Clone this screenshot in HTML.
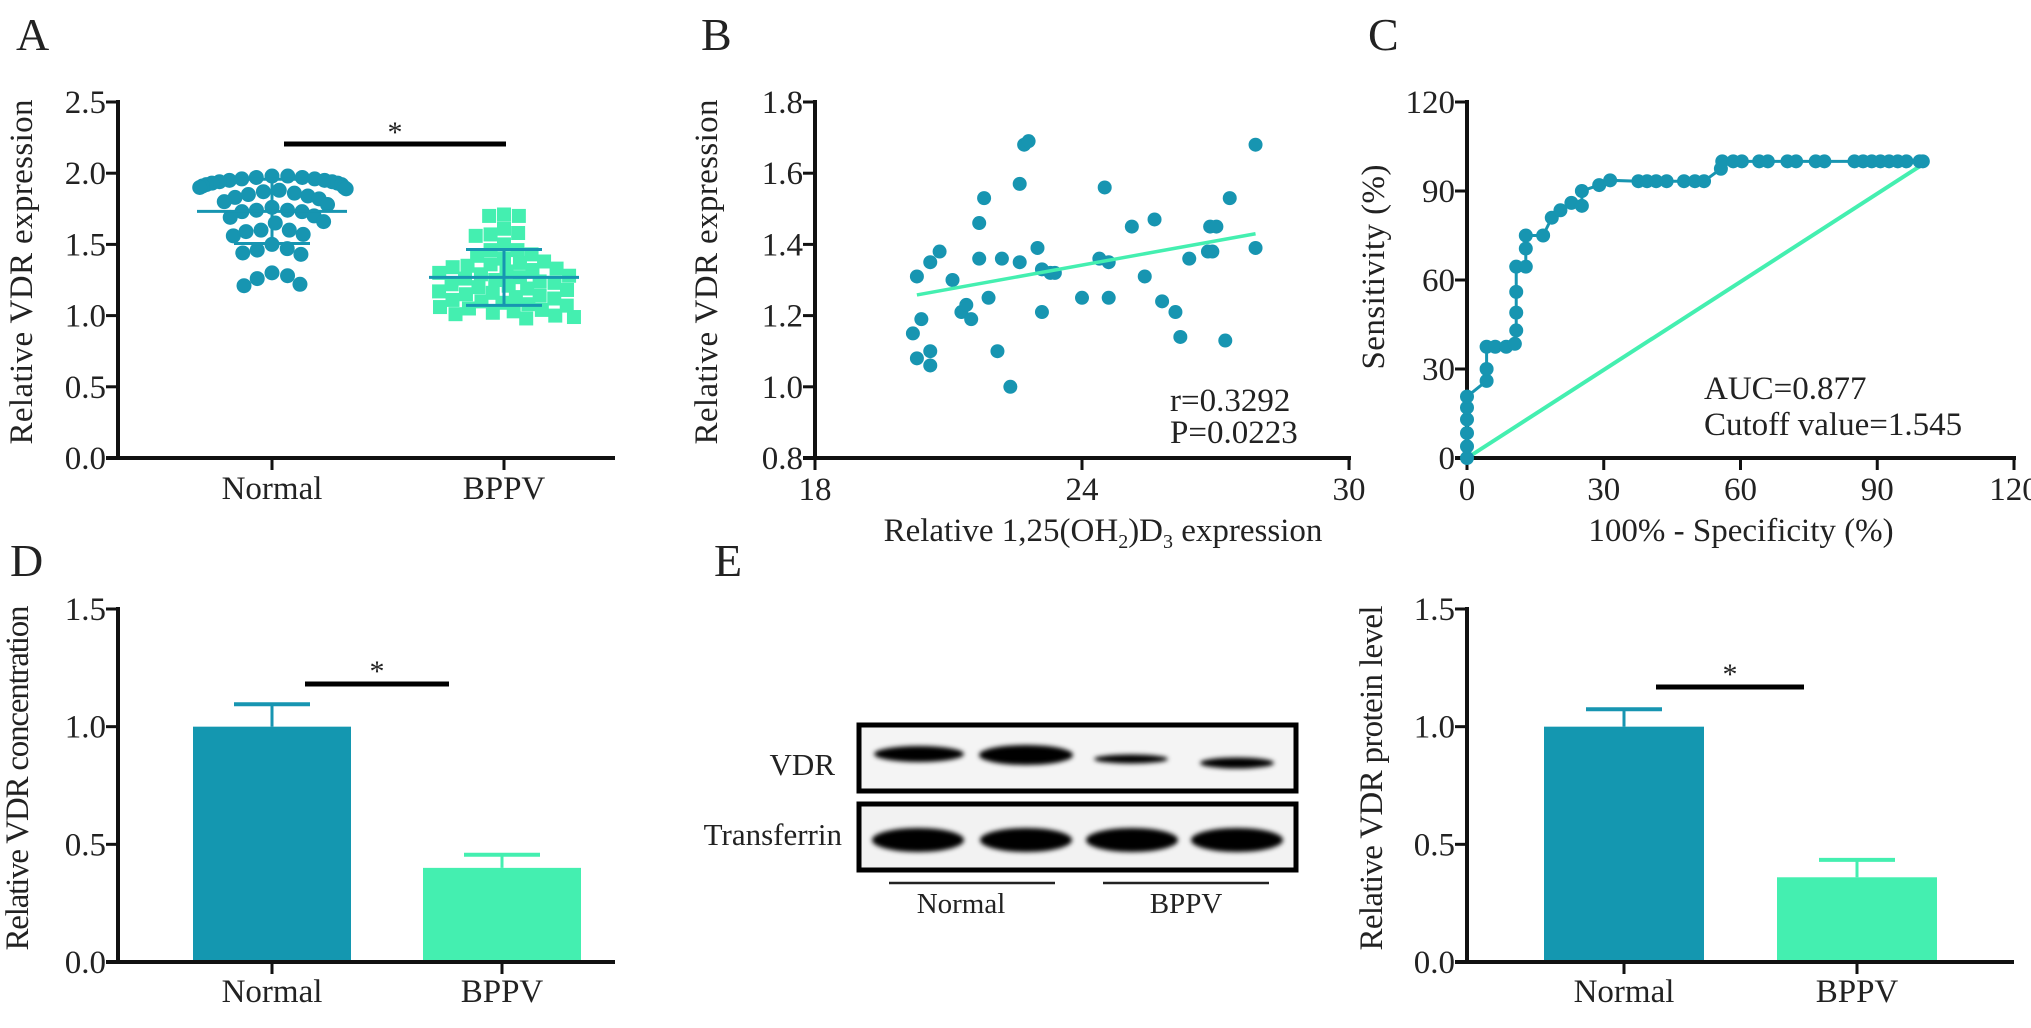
<!DOCTYPE html>
<html><head><meta charset="utf-8"><style>
html,body{margin:0;padding:0;background:#fff;}
svg, svg text{font-family:"Liberation Serif","DejaVu Serif",serif;}
text{fill:#222;}
</style></head><body>
<svg id="fig" width="2031" height="1023" viewBox="0 0 2031 1023" xmlns="http://www.w3.org/2000/svg" font-family="Liberation Serif, DejaVu Serif, serif">
<defs><filter id="blur" x="-20%" y="-100%" width="140%" height="300%"><feGaussianBlur stdDeviation="2.5"/></filter></defs>
<g id="root"></g>
</svg>
<script>
// Panel A data
const normalVals=[1.98,1.98,1.97,1.97,1.96,1.96,1.95,1.95,1.94,1.94,1.93,1.93,1.92,1.92,1.91,1.90,1.90,1.89,1.88,1.87,1.86,1.85,1.84,1.83,1.82,1.80,1.78,1.76,1.74,1.74,1.73,1.73,1.70,1.69,1.66,1.65,1.60,1.60,1.59,1.57,1.56,1.50,1.47,1.46,1.44,1.43,1.30,1.28,1.26,1.22,1.21];
const bppvVals=[1.71,1.70,1.70,1.61,1.58,1.57,1.56,1.50,1.46,1.46,1.43,1.42,1.40,1.38,1.37,1.36,1.35,1.34,1.33,1.32,1.31,1.30,1.29,1.28,1.27,1.26,1.25,1.24,1.23,1.22,1.21,1.20,1.19,1.18,1.17,1.16,1.15,1.14,1.13,1.12,1.11,1.10,1.09,1.08,1.07,1.06,1.05,1.04,1.03,1.02,1.01,1.00,0.99,0.98];
const catLabels=["Normal","BPPV"];
const ticksA=[0,0.5,1.0,1.5,2.0,2.5];
// Panel B data
const scatterX=[20.2,20.29,20.29,20.39,20.59,20.59,20.59,20.8,21.09,21.29,21.4,21.51,21.69,21.69,21.8,21.9,22.1,22.2,22.39,22.6,22.6,22.7,22.8,23.0,23.1,23.1,23.29,23.39,24.0,24.39,24.51,24.6,24.6,25.12,25.41,25.63,25.8,26.1,26.21,26.41,26.83,26.93,26.88,27.02,27.22,27.32,27.9,27.9];
const scatterY=[1.15,1.08,1.31,1.19,1.10,1.06,1.35,1.38,1.30,1.21,1.23,1.19,1.46,1.36,1.53,1.25,1.10,1.36,1.00,1.57,1.35,1.68,1.69,1.39,1.33,1.21,1.32,1.32,1.25,1.36,1.56,1.35,1.25,1.45,1.31,1.47,1.24,1.21,1.14,1.36,1.38,1.38,1.45,1.45,1.13,1.53,1.68,1.39];
const fitX=[20.29,27.9];
const fitY=[1.258,1.43];
const ticksBx=[18,24,30];
const ticksBy=[0.8,1.0,1.2,1.4,1.6,1.8];
// Panel C data
const rocFpr=[0,0,0,0,0,0,4.3,4.3,4.3,6.2,8.6,10.5,10.8,10.8,10.8,10.8,12.9,12.9,12.9,16.7,18.6,20.5,22.9,25.2,25.2,29,31.4,37.6,39.5,41.5,43.8,47.6,50,52,55.7,56,58.4,60.3,64.1,66,70.3,72.2,76.5,78.4,85,86.9,88.8,90.7,92.6,94.5,96.4,99.3,100];
const rocSens=[0,3.9,8.4,13,17,20.7,26,30,37.5,37.5,37.5,38.5,43,49,56,64.5,64.5,70.6,75,75,81,83.5,86,85,90,92,93.6,93.3,93.3,93.3,93.3,93.3,93.3,93.3,97.5,100,100,100,100,100,100,100,100,100,100,100,100,100,100,100,100,100,100];
const ticksC=[0,30,60,90,120];
// Panel D data
const concMeans=[1.0,0.40];
const concErr=[0.095,0.056];
// Panel E data
const protMeans=[1.0,0.36];
const protErr=[0.074,0.074];
const ticksBar=[0,0.5,1.0,1.5];

const NS="http://www.w3.org/2000/svg";
const FONT='Liberation Serif, DejaVu Serif, serif';
const root=document.getElementById('root');
const TEAL="#1795b1", MINT="#44efb0";
function el(tag,attrs,parent){const e=document.createElementNS(NS,tag);for(const k in attrs)e.setAttribute(k,attrs[k]);(parent||root).appendChild(e);return e;}
function txt(s,x,y,size,anchor,parent){const t=el('text',{x:x,y:y,'font-size':size,'text-anchor':anchor||'start','font-family':FONT},parent);t.textContent=s;return t;}
function lin(d0,d1,r0,r1){return v=>r0+(v-d0)/(d1-d0)*(r1-r0);}
function fmt1(v){return v.toFixed(1);}

function axes(g,x0,x1,yTop,yBot,yTicks,yScale,fmt){
  const a=el('line',{x1:x0,y1:yTop-2,x2:x0,y2:yBot+2,stroke:'#111','stroke-width':4},g);
  
  const b=el('line',{x1:x0-12,y1:yBot,x2:x1,y2:yBot,stroke:'#111','stroke-width':4},g);
  
  yTicks.forEach(v=>{const y=yScale(v);
    el('line',{x1:x0-12,y1:y,x2:x0,y2:y,stroke:'#111','stroke-width':3},g);
    const t=txt(fmt(v),x0-12,y+11,33,'end',g);
    });
}
function ytitle(g,s,cx,cy,len,name){const t=el('text',{x:0,y:0,'font-size':33,'font-family':FONT,'text-anchor':'middle',transform:`translate(${cx},${cy}) rotate(-90)`,textLength:len,lengthAdjust:'spacing'},g);t.textContent=s;}
function panelLetter(s,x,y){const t=txt(s,x,y,46,'start');}
function stats(a){const m=a.reduce((s,v)=>s+v,0)/a.length;const sd=Math.sqrt(a.reduce((s,v)=>s+(v-m)*(v-m),0)/(a.length-1));return [m,sd];}
function swarm(vals,d,ys){const s=[...vals].sort((a,b)=>b-a);const placed=[];
  s.forEach(v=>{const y=ys(v);let cands=[0];placed.forEach(p=>{const dy=Math.abs(p.y-y);if(dy<d){const dx=Math.sqrt(d*d-dy*dy);cands.push(p.x+dx,p.x-dx);}});
    cands.sort((a,b)=>Math.abs(a)-Math.abs(b));let best=0;
    for(const c of cands){if(placed.every(p=>(p.x-c)**2+(p.y-y)**2>=d*d-0.01)){best=c;break;}}
    placed.push({x:best,y:y,v:v});});return placed;}

// ---------- Panel A ----------
panelLetter('A',16,50);
(function(){
  const g=el('g',{});
  const ys=lin(0,2.5,458,102);const cx=[272,504];
  axes(g,118,615,102,458,ticksA,ys,fmt1);
  cx.forEach((x,i)=>{el('line',{x1:x,y1:458,x2:x,y2:470,stroke:'#111','stroke-width':3},g);const t=txt(catLabels[i],x,499,33,'middle',g);});
  ytitle(g,'Relative  VDR expression',32,272,345,'y-axis-title');
  swarm(normalVals,16,ys).forEach(p=>{const c=el('circle',{cx:cx[0]+78*Math.tanh(p.x/78),cy:p.y,r:7.5,fill:TEAL},g);});
  swarm(bppvVals,13,ys).forEach(p=>{const r=el('rect',{x:cx[1]+p.x*1.15-7,y:p.y-7,width:14,height:14,fill:MINT},g);});
  [[normalVals,cx[0],TEAL],[bppvVals,cx[1],TEAL]].forEach(([a,x,col])=>{const [m,sd]=stats(a);
    el('line',{x1:x-75,y1:ys(m),x2:x+75,y2:ys(m),stroke:col,'stroke-width':3},g);
    el('line',{x1:x,y1:ys(m+sd),x2:x,y2:ys(m-sd),stroke:col,'stroke-width':3},g);
    [m+sd,m-sd].forEach(v=>el('line',{x1:x-38,y1:ys(v),x2:x+38,y2:ys(v),stroke:col,'stroke-width':3},g));});
  const s=el('line',{x1:284,y1:144,x2:506,y2:144,stroke:'#000','stroke-width':5},g);
  txt('*',395,142,30,'middle',g);
})();

// ---------- Panel B ----------
panelLetter('B',701,50);
(function(){
  const g=el('g',{});
  const xs=lin(18,30,815,1349), ys=lin(0.8,1.8,458,102);
  axes(g,815,1351,102,458,ticksBy,ys,fmt1);
  ticksBx.forEach(v=>{const x=xs(v);el('line',{x1:x,y1:458,x2:x,y2:470,stroke:'#111','stroke-width':3},g);const t=txt(String(v),x,500,33,'middle',g);});
  ytitle(g,'Relative  VDR expression',717,272,345,'y-axis-title');
  scatterX.forEach((xv,i)=>{const c=el('circle',{cx:xs(xv),cy:ys(scatterY[i]),r:7,fill:TEAL},g);});
  const f=el('line',{x1:xs(fitX[0]),y1:ys(fitY[0]),x2:xs(fitX[1]),y2:ys(fitY[1]),stroke:MINT,'stroke-width':3.5},g);
  const t1=txt('r=0.3292',1170,411,33,'start',g);
  const t2=txt('P=0.0223',1170,443,33,'start',g);
  const xt=el('text',{x:1103,y:541,'font-size':33,'text-anchor':'middle','font-family':FONT},g);
  xt.innerHTML='Relative 1,25(OH<tspan font-size="20" dy="7">2</tspan><tspan dy="-7">)D</tspan><tspan font-size="20" dy="7">3</tspan><tspan dy="-7"> expression</tspan>';
})();

// ---------- Panel C ----------
panelLetter('C',1368,50);
(function(){
  const g=el('g',{});
  const xs=lin(0,120,1467,2014), ys=lin(0,120,458,102);
  axes(g,1467,2016,102,458,[0,30,60,90,120],ys,v=>String(v));
  ticksC.forEach(v=>{const x=xs(v);el('line',{x1:x,y1:458,x2:x,y2:470,stroke:'#111','stroke-width':3},g);const t=txt(String(v),x,500,33,'middle',g);});
  ytitle(g,'Sensitivity  (%)',1384,267,205,'y-axis-title');
  const d=el('line',{x1:xs(0),y1:ys(0),x2:xs(100),y2:ys(99)},g);d.setAttribute('stroke',MINT);d.setAttribute('stroke-width',4);
  const pts=rocFpr.map((v,i)=>xs(v)+','+ys(rocSens[i])).join(' ');
  const pl=el('polyline',{points:pts,fill:'none',stroke:TEAL,'stroke-width':3},g);
  rocFpr.forEach((v,i)=>{const c=el('circle',{cx:xs(v),cy:ys(rocSens[i]),r:7,fill:TEAL},g);});
  const a1=txt('AUC=0.877',1704,399,33,'start',g);
  const a2=txt('Cutoff value=1.545',1704,435,33,'start',g);
  const xt=txt('100% - Specificity (%)',1741,541,33,'middle',g);
})();

// ---------- Bar panels ----------
function barPanel(name,x0,x1,cx,bw,means,errs,title,titleX,sig){
  const g=el('g',{});
  const ys=lin(0,1.5,962,609);
  const cols=[TEAL,MINT];
  means.forEach((m,i)=>{const b=el('rect',{x:cx[i]-bw/2,y:ys(m),width:bw,height:ys(0)-ys(m),fill:i?MINT:'#1497b0'},g);
    const e=el('g',{},g);
    el('line',{x1:cx[i],y1:ys(m),x2:cx[i],y2:ys(m+errs[i]),stroke:cols[i],'stroke-width':3},e);
    el('line',{x1:cx[i]-38,y1:ys(m+errs[i]),x2:cx[i]+38,y2:ys(m+errs[i]),stroke:cols[i],'stroke-width':4},e);});
  axes(g,x0,x1,609,962,ticksBar,ys,fmt1);
  cx.forEach((x,i)=>{el('line',{x1:x,y1:962,x2:x,y2:974,stroke:'#111','stroke-width':3},g);const t=txt(catLabels[i],x,1002,33,'middle',g);});
  ytitle(g,title,titleX,778,345,'y-axis-title');
  const s=el('line',{x1:sig[0],y1:sig[2],x2:sig[1],y2:sig[2],stroke:'#000','stroke-width':5},g);
  txt('*',(sig[0]+sig[1])/2,sig[2]-3,30,'middle',g);
}
panelLetter('D',10,576);
barPanel('panel-d-bar-chart',118,615,[272,502],158,concMeans,concErr,'Relative VDR concentration',28,[305,449,684]);
barPanel('panel-e-bar-chart',1467,2014,[1624,1857],160,protMeans,protErr,'Relative VDR protein level',1382,[1656,1804,687]);
panelLetter('E',714,576);

// ---------- Western blot ----------
(function(){
  const g=el('g',{});
  const b1=el('rect',{x:859,y:725,width:437,height:66,fill:'#f4f4f4',stroke:'#000','stroke-width':5},g);
  const b2=el('rect',{x:859,y:804,width:437,height:66,fill:'#f2f2f2',stroke:'#000','stroke-width':5},g);
  const vdr=[[919,754,45,8],[1026,755,47,10],[1131,759,37,4.5],[1237,763,37,5.5]];
  vdr.forEach(b=>{const e=el('ellipse',{cx:b[0],cy:b[1],rx:b[2],ry:b[3],fill:'#000',filter:'url(#blur)'},g);});
  [[918,840],[1026,840],[1132,840],[1237,840]].forEach(b=>{const e=el('ellipse',{cx:b[0],cy:b[1],rx:46,ry:12,fill:'#000',filter:'url(#blur)'},g);});
  const l1=txt('VDR',835,775,31,'end',g);
  const l2=txt('Transferrin',842,845,31,'end',g);
  el('line',{x1:889,y1:883,x2:1055,y2:883,stroke:'#222','stroke-width':2.5},g);
  el('line',{x1:1103,y1:883,x2:1269,y2:883,stroke:'#222','stroke-width':2.5},g);
  const n=txt('Normal',961,913,29,'middle',g);
  const p=txt('BPPV',1186,913,29,'middle',g);
})();
</script>
</body></html>
